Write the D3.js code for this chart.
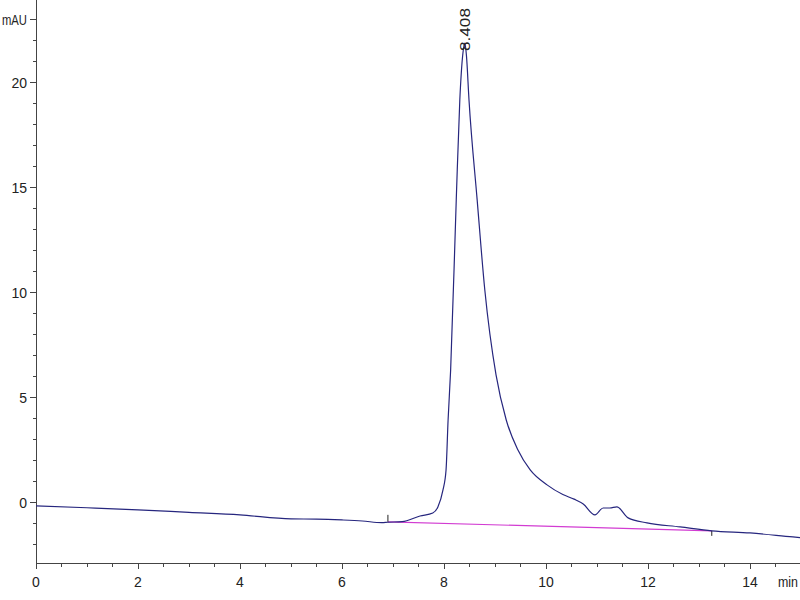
<!DOCTYPE html>
<html>
<head>
  <title>Chromatogram</title>
  <script src="https://d3js.org/d3.v7.min.js"></script>
  <style>
    body { margin: 0; background: #fff; }
    .lbl { font: 14px "Liberation Sans", Arial, sans-serif; fill: #222; }
    .trace { fill: none; stroke: #26267e; stroke-width: 1.2px; }
    .base { fill: none; stroke: #d23cd2; stroke-width: 1.2px; }
  </style>
</head>
<body>
  <script>
    var width = 800,
        height = 600;

    // signal, minutes vs mAU
    var times = [0, 1, 2, 3, 4, 5, 5.5, 6, 6.4, 6.78, 6.9, 7.18, 7.53, 7.78, 7.88, 7.98, 8.04, 8.08, 8.13, 8.24, 8.31, 8.37, 8.408, 8.44, 8.49, 8.65, 8.8, 9.02, 9.22, 9.45, 9.69, 10.02, 10.33, 10.55, 10.73, 10.96, 11.12, 11.25, 11.39, 11.61, 11.98, 12.63, 13.25, 14.0, 14.84, 14.98];
    var mAU   = [-0.14, -0.23, -0.33, -0.45, -0.57, -0.76, -0.77, -0.81, -0.86, -0.94, -0.92, -0.89, -0.62, -0.48, -0.19, 0.62, 1.57, 3.95, 6.33, 14.43, 19.2, 21.4, 21.9, 21.3, 19.19, 14.43, 10.14, 6.1, 3.95, 2.52, 1.57, 0.86, 0.4, 0.18, -0.05, -0.57, -0.24, -0.24, -0.19, -0.71, -0.95, -1.14, -1.33, -1.43, -1.62, -1.65];

    // integration baseline
    var baseTimes = [6.9, 13.25];
    var baseMAU = [-0.9, -1.33];

    var peakTime = 8.408, peakLabel = "8.408", peakTop = 21.9;

    var xMajor = [0, 2, 4, 6, 8, 10, 12, 14];
    var yMajor = [0, 5, 10, 15, 20];

    var x = d3.scaleLinear().domain([0, 14.98]).range([36, 800]);
    var y = d3.scaleLinear().domain([-2.86, 23.95]).range([563, 0]);

    var svg = d3.select("body").append("svg")
        .attr("width", width)
        .attr("height", height);

    // axes lines
    svg.append("line")
        .attr("x1", x(0)).attr("x2", x(0)).attr("y1", y(23.95)).attr("y2", y(-2.86))
        .style("stroke", "#444").style("shape-rendering", "crispEdges");
    svg.append("line")
        .attr("x1", x(0)).attr("x2", 800).attr("y1", y(-2.86)).attr("y2", y(-2.86))
        .style("stroke", "#444").style("shape-rendering", "crispEdges");

    // x ticks
    var xMinor = d3.range(0, 15, 0.5);
    svg.selectAll(".xt").data(xMinor).enter().append("line")
        .attr("x1", function(d) { return x(d); })
        .attr("x2", function(d) { return x(d); })
        .attr("y1", y(-2.86))
        .attr("y2", function(d) { return y(-2.86) + (d % 2 === 0 ? 6 : 4); })
        .style("stroke", "#444").style("shape-rendering", "crispEdges");
    svg.selectAll(".xl").data(xMajor).enter().append("text")
        .attr("class", "lbl")
        .attr("x", function(d) { return x(d); })
        .attr("y", 587)
        .attr("text-anchor", "middle")
        .text(function(d) { return d; });
    svg.append("text").attr("class", "lbl")
        .attr("x", 778).attr("y", 587)
        .attr("textLength", 20).attr("lengthAdjust", "spacingAndGlyphs")
        .text("min");

    // y ticks
    var yMinor = d3.range(-2, 24, 1);
    svg.selectAll(".yt").data(yMinor).enter().append("line")
        .attr("x1", function(d) { return x(0) - ((d % 5 === 0 || d === 23) ? 6 : 3); })
        .attr("x2", x(0))
        .attr("y1", function(d) { return y(d); })
        .attr("y2", function(d) { return y(d); })
        .style("stroke", "#444").style("shape-rendering", "crispEdges");
    svg.selectAll(".yl").data(yMajor).enter().append("text")
        .attr("class", "lbl")
        .attr("x", 27)
        .attr("y", function(d) { return y(d); })
        .attr("dy", "0.36em")
        .attr("text-anchor", "end")
        .text(function(d) { return d; });
    svg.append("text").attr("class", "lbl")
        .attr("x", 2).attr("y", y(23)).attr("dy", "0.36em")
        .attr("textLength", 25).attr("lengthAdjust", "spacingAndGlyphs")
        .text("mAU");

    // baseline
    var baseData = baseTimes.map(function(t, i) { return [t, baseMAU[i]]; });
    svg.append("path").attr("class", "base")
        .attr("d", d3.line().x(function(d) { return x(d[0]); }).y(function(d) { return y(d[1]); })(baseData));
    // integration markers
    svg.append("line")
        .attr("x1", x(baseTimes[0])).attr("x2", x(baseTimes[0]))
        .attr("y1", y(baseMAU[0])).attr("y2", y(baseMAU[0]) - 7)
        .style("stroke", "#222");
    svg.append("line")
        .attr("x1", x(baseTimes[1])).attr("x2", x(baseTimes[1]))
        .attr("y1", y(baseMAU[1])).attr("y2", y(baseMAU[1]) + 5)
        .style("stroke", "#222");

    // signal
    var sig = times.map(function(t, i) { return [t, mAU[i]]; });
    svg.append("path").attr("class", "trace")
        .attr("d", d3.line()
          .curve(d3.curveMonotoneX)
          .x(function(d) { return x(d[0]); })
          .y(function(d) { return y(d[1]); })(sig));

    // peak label
    svg.append("text").attr("class", "lbl")
        .attr("transform", "translate(" + (x(peakTime) + 5) + "," + (y(peakTop) + 8) + ") rotate(-90)")
        .attr("text-anchor", "start")
        .style("font-size", "14px")
        .attr("textLength", 43).attr("lengthAdjust", "spacingAndGlyphs")
        .text(peakLabel);
  </script>
</body>
</html>
